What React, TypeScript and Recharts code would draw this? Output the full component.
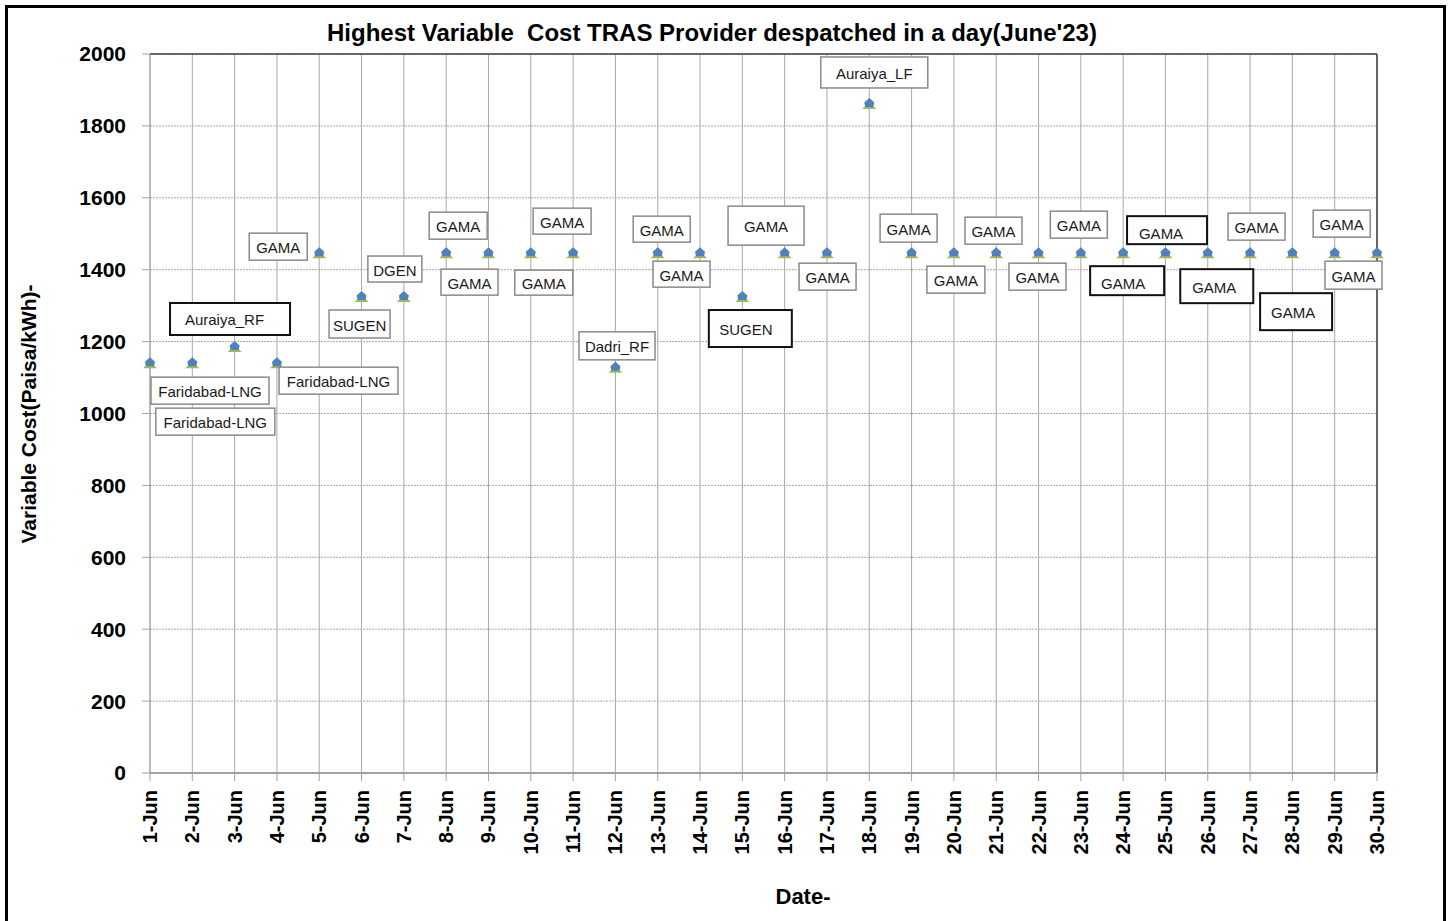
import React from 'react';
import { LineChart, Line, XAxis, YAxis, CartesianGrid, ReferenceLine } from 'recharts';

const dates = [
  '1-Jun', '2-Jun', '3-Jun', '4-Jun', '5-Jun', '6-Jun', '7-Jun', '8-Jun', '9-Jun', '10-Jun',
  '11-Jun', '12-Jun', '13-Jun', '14-Jun', '15-Jun', '16-Jun', '17-Jun', '18-Jun', '19-Jun', '20-Jun',
  '21-Jun', '22-Jun', '23-Jun', '24-Jun', '25-Jun', '26-Jun', '27-Jun', '28-Jun', '29-Jun', '30-Jun',
];

const costs = [
  1140, 1140, 1185, 1140, 1446, 1324, 1324, 1446, 1446, 1446,
  1446, 1127, 1446, 1446, 1324, 1446, 1446, 1861, 1446, 1446,
  1446, 1446, 1446, 1446, 1446, 1446, 1446, 1446, 1446, 1446,
];

const providers = [
  'Faridabad-LNG', 'Faridabad-LNG', 'Auraiya_RF', 'Faridabad-LNG', 'GAMA', 'SUGEN', 'DGEN', 'GAMA', 'GAMA', 'GAMA',
  'GAMA', 'Dadri_RF', 'GAMA', 'GAMA', 'SUGEN', 'GAMA', 'GAMA', 'Auraiya_LF', 'GAMA', 'GAMA',
  'GAMA', 'GAMA', 'GAMA', 'GAMA', 'GAMA', 'GAMA', 'GAMA', 'GAMA', 'GAMA', 'GAMA',
];

const yTicks = [0, 200, 400, 600, 800, 1000, 1200, 1400, 1600, 1800, 2000];

// Label box placement (style only): offset of box centre from the point, box size, dark border, text offset
const labelLayout = [
  { dx: 60, dy: 27.5, w: 118, h: 27 },
  { dx: 23, dy: 58.5, w: 119, h: 27 },
  { dx: -4.6, dy: -28, w: 120, h: 32, dark: true, tdx: -5.5 },
  { dx: 61.6, dy: 17.5, w: 119, h: 27 },
  { dx: -41, dy: -6.5, w: 58, h: 27 },
  { dx: -2, dy: 27, w: 61, h: 28 },
  { dx: -9, dy: -28, w: 54, h: 26 },
  { dx: 12, dy: -27.5, w: 58, h: 27 },
  { dx: -19, dy: 29, w: 57, h: 26 },
  { dx: 13, dy: 29.5, w: 58, h: 25 },
  { dx: -11, dy: -32, w: 58, h: 26 },
  { dx: 1.6, dy: -22, w: 76, h: 28 },
  { dx: 4, dy: -24, w: 57, h: 26 },
  { dx: -18.5, dy: 21, w: 57, h: 26 },
  { dx: 8, dy: 31.5, w: 83, h: 37, dark: true, tdx: -4.5 },
  { dx: -18.6, dy: -27.5, w: 76, h: 39 },
  { dx: 0.6, dy: 23.5, w: 57, h: 27 },
  { dx: 5, dy: -31.5, w: 107, h: 31 },
  { dx: -3, dy: -25, w: 57, h: 28 },
  { dx: 2, dy: 26.5, w: 58, h: 27 },
  { dx: -2.7, dy: -22.5, w: 57, h: 27 },
  { dx: -1, dy: 23.5, w: 57, h: 27 },
  { dx: -2, dy: -28.5, w: 57, h: 27 },
  { dx: 4, dy: 27.5, w: 74, h: 29, dark: true, tdx: -4, tdy: 2 },
  { dx: 1.6, dy: -23, w: 80, h: 28, dark: true, tdx: -6, tdy: 2 },
  { dx: 9, dy: 33, w: 73, h: 34, dark: true, tdx: -2.5 },
  { dx: 6.5, dy: -26.5, w: 57, h: 27 },
  { dx: 3.7, dy: 58.5, w: 72, h: 37, dark: true, tdx: -3 },
  { dx: 7, dy: -29.5, w: 57, h: 27 },
  { dx: -23.5, dy: 22, w: 57, h: 28 },
];

const data = dates.map((d, i) => ({ date: d, cost: costs[i], provider: providers[i] }));

const Marker = (props: any) => {
  const { cx, cy, index } = props;
  if (cx == null || cy == null) return <g key={`m${index}`} />;
  return (
    <g key={`m${index}`}>
      <polygon points={`${cx - 7},${cy + 5} ${cx},${cy - 2} ${cx + 7},${cy + 5}`} fill="#9bbb59" />
      <polygon
        points={`${cx},${cy - 6} ${cx + 5},${cy - 1.5} ${cx + 4},${cy + 3} ${cx - 4},${cy + 3} ${cx - 5},${cy - 1.5}`}
        fill="#4f81bd"
      />
    </g>
  );
};

const LabelBox = (props: any) => {
  const { cx, cy, index } = props;
  const L: any = labelLayout[index];
  if (cx == null || cy == null || !L) return <g key={`l${index}`} />;
  const bx = cx + L.dx - L.w / 2;
  const by = cy + L.dy - L.h / 2;
  return (
    <g key={`l${index}`}>
      <rect
        x={bx}
        y={by}
        width={L.w}
        height={L.h}
        fill="#ffffff"
        stroke={L.dark ? '#111111' : '#8a8a8a'}
        strokeWidth={L.dark ? 2 : 1.5}
      />
      <text
        x={cx + L.dx + (L.tdx || 0)}
        y={cy + L.dy + 1 + (L.tdy || 0)}
        textAnchor="middle"
        dominantBaseline="central"
        fontSize={15}
        fontFamily="'Liberation Sans', Arial, sans-serif"
        fill="#1a1a1a"
      >
        {providers[index]}
      </text>
    </g>
  );
};

const XTick = (props: any) => {
  const { x, y, payload } = props;
  return (
    <text
      x={x}
      y={y}
      dy={7}
      transform={`rotate(-90 ${x} ${y})`}
      textAnchor="end"
      fontSize={20}
      fontWeight="bold"
      fontFamily="'Liberation Sans', Arial, sans-serif"
      fill="#000"
    >
      {payload.value}
    </text>
  );
};

export default function App() {
  return (
    <div
      style={{
        position: 'absolute',
        left: 0,
        top: 0,
        width: 1451,
        height: 921,
        overflow: 'hidden',
        background: '#fff',
        fontFamily: "'Liberation Sans', Arial, sans-serif",
      }}
    >
      <LineChart
        width={1451}
        height={921}
        data={data}
        margin={{ top: 54, right: 74, bottom: 0, left: 0 }}
      >
        <CartesianGrid vertical={false} stroke="#a8a8a8" strokeDasharray="2 1" />
        <CartesianGrid horizontal={false} stroke="#a8a8a8" />
        <XAxis
          dataKey="date"
          scale="point"
          padding={{ left: 0, right: 0 }}
          height={148}
          interval={0}
          tickSize={8}
          tickMargin={9}
          tick={<XTick />}
          axisLine={{ stroke: '#a0a0a0', strokeWidth: 2 }}
          tickLine={{ stroke: '#a0a0a0' }}
        />
        <YAxis
          width={150}
          domain={[0, 2000]}
          ticks={yTicks}
          interval={0}
          tickSize={8}
          tickMargin={16}
          tick={{ fill: '#000', fontSize: 21, fontWeight: 'bold', fontFamily: "'Liberation Sans', Arial, sans-serif" }}
          axisLine={{ stroke: '#a0a0a0' }}
          tickLine={{ stroke: '#a0a0a0' }}
        />
        <ReferenceLine y={2000} stroke="#404040" strokeWidth={1.5} />
        <ReferenceLine x="30-Jun" stroke="#404040" strokeWidth={1.5} />
        <Line
          dataKey="cost"
          stroke="none"
          isAnimationActive={false}
          dot={Marker}
          activeDot={false}
        />
        <Line
          dataKey="cost"
          stroke="none"
          isAnimationActive={false}
          dot={LabelBox}
          activeDot={false}
        />
      </LineChart>
      <div
        style={{
          position: 'absolute',
          left: 0,
          top: 21,
          width: 1424,
          textAlign: 'center',
          fontSize: 24,
          lineHeight: '24px',
          fontWeight: 'bold',
          color: '#000',
          whiteSpace: 'pre',
        }}
      >
        Highest Variable  Cost TRAS Provider despatched in a day(June'23)
      </div>
      <div
        style={{
          position: 'absolute',
          left: 28,
          top: 414,
          transform: 'translate(-50%, -50%) rotate(-90deg)',
          fontSize: 21,
          lineHeight: '21px',
          fontWeight: 'bold',
          color: '#000',
          whiteSpace: 'nowrap',
        }}
      >
        Variable Cost(Paisa/kWh)-
      </div>
      <div
        style={{
          position: 'absolute',
          left: 803,
          top: 897,
          transform: 'translate(-50%, -50%)',
          fontSize: 22,
          lineHeight: '22px',
          fontWeight: 'bold',
          color: '#000',
          whiteSpace: 'nowrap',
        }}
      >
        Date-
      </div>
      <div
        style={{
          position: 'absolute',
          left: 5,
          top: 5,
          width: 1435,
          height: 940,
          border: '3px solid #000',
          pointerEvents: 'none',
        }}
      />
    </div>
  );
}
